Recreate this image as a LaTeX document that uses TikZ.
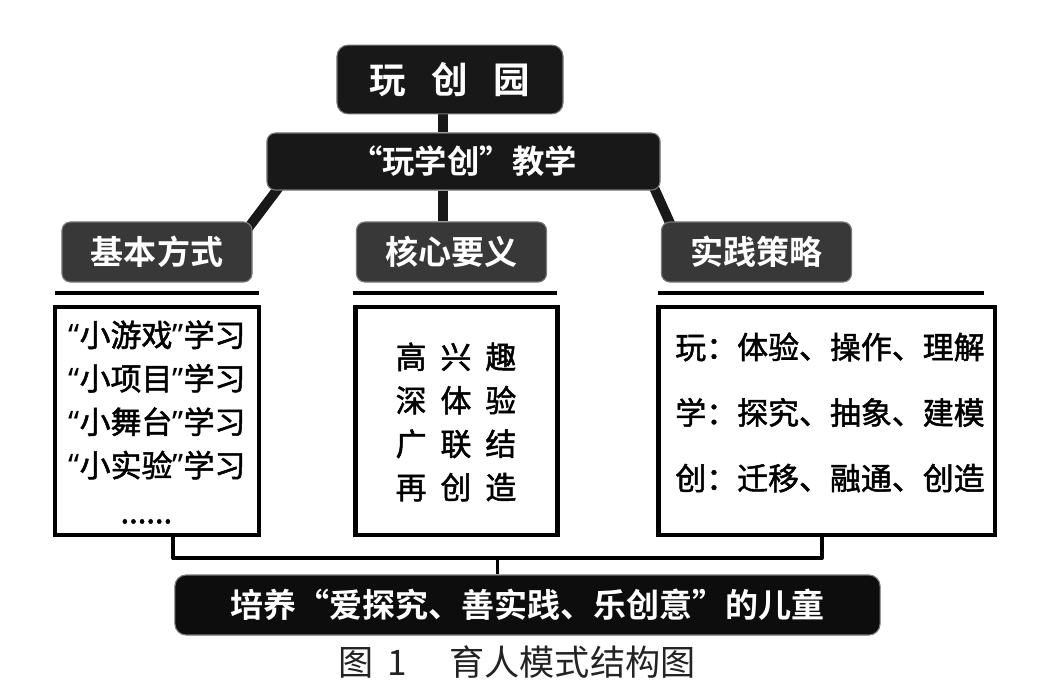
\documentclass[tikz,border=0pt]{standalone}
\usepackage{fontspec}
\setmainfont{Noto Sans CJK SC}[BoldFont={Noto Sans CJK SC Bold}]
\newfontfamily\cjkmid{Noto Sans CJK SC}[FakeBold=1.6]
\newfontfamily\latinq{Noto Sans}
\usepackage{tikz}
\usetikzlibrary{calc,backgrounds}
\definecolor{boxblack}{RGB}{24,24,24}
\definecolor{boxgray}{RGB}{56,56,56}
\definecolor{rimgray}{RGB}{120,120,120}
\definecolor{captiongray}{RGB}{35,35,35}
\newcommand{\nq}[1]{{\latinq “}#1{\latinq ”}}
\newcommand{\cgap}{\hspace{0.45em}}

\begin{document}
\begin{tikzpicture}[
  x=0.025cm, y=-0.025cm,
  darkbox/.style={rounded corners=6pt, fill=boxblack, draw=rimgray, line width=0.8pt,
                  text=white, inner sep=0pt},
  headbox/.style={darkbox, fill=boxgray, minimum width=4.75cm, minimum height=1.5cm,
                  font=\bfseries\fontsize{23.5}{28}\selectfont},
  listframe/.style={draw, line width=3.2pt, minimum height=5.69cm, inner sep=0pt},
  listtext/.style={font=\cjkmid\fontsize{22}{30.9}\selectfont, align=left, inner sep=0pt},
  stem/.style={line width=7pt, color=boxblack},
  rule/.style={line width=3pt},
  bracket/.style={line width=2.8pt, line join=round}
]
\useasboundingbox (0,0) rectangle (1041,693);

% Top levels
\node[darkbox, rounded corners=8pt, minimum width=5.65cm, minimum height=1.72cm,
  font=\bfseries\fontsize{26}{30}\selectfont] (park) at (450,79.5)
  {玩\hspace{0.7em}创\hspace{0.7em}园};
\node[darkbox, minimum width=9.825cm, minimum height=1.425cm,
  font=\bfseries\fontsize{23}{27}\selectfont] (teach) at (463.5,161.5)
  {“玩学创”教学};

% Three aspects
\node[headbox] (basic) at (157,252) {基本方式};
\node[headbox] (core) at (451.5,252) {核心要义};
\node[headbox] (strategy) at (756.5,252) {实践策略};

% Frames
\node[listframe, minimum width=5.09cm] (modeframe) at (157,421) {};
\node[listframe, minimum width=5.06cm] (coreframe) at (456.5,421) {};
\node[listframe, minimum width=8.41cm] (strategyframe) at (826.5,421) {};

% Frame texts
\node[listtext] (modetext) at (157,422)
  {\nq{小游戏}学习\\\nq{小项目}学习\\\nq{小舞台}学习\\\nq{小实验}学习\\[2pt]\hspace*{1.3cm}......};
\node[listtext, align=center] (coretext) at (456,422)
  {高\cgap 兴\cgap 趣\\深\cgap 体\cgap 验\\广\cgap 联\cgap 结\\再\cgap 创\cgap 造};
\node[listtext, font=\cjkmid\fontsize{22}{46.6}\selectfont] (strategytext) at (830,412.5)
  {玩：体验、操作、理解\\学：探究、抽象、建模\\创：迁移、融通、创造};

% Rules above frames
\draw[rule] ($(modeframe.north west)+(2,-12)$) -- ($(modeframe.north east)+(-2,-12)$);
\draw[rule] ($(coreframe.north west)+(0,-12)$) -- ($(coreframe.north east)+(-3,-12)$);
\draw[rule] ($(strategyframe.north west)+(2,-12)$) -- ($(strategyframe.north east)+(-13,-12)$);

% Goal and caption
\node[darkbox, fill=black!95, rounded corners=8pt, minimum width=17.625cm, minimum height=1.5cm,
  font=\bfseries\fontsize{23.5}{28}\selectfont] (goal) at (527.5,605)
  {培养“爱探究、善实践、乐创意”的儿童};
\node[font=\fontsize{25}{30}\selectfont, text=captiongray, inner sep=0pt] (caption) at (517,662)
  {图\hspace{0.4em}1\hspace{1.2em}育人模式结构图};

% Bracket
\coordinate (bl) at (173,558);
\coordinate (br) at (822,558);
\coordinate (bm) at ($(bl)!.5!(br)$);
\draw[bracket] (modeframe.south -| bl) -- (bl) -- (br) -- (strategyframe.south -| br);
\draw[bracket] (bm) -- (bm |- goal.north);

% Stems
\begin{scope}[on background layer]
\coordinate (spine) at (443,0);
\draw[stem] (park.south -| spine) -- (teach.north -| spine);
\draw[stem] (teach.south -| spine) -- (core.north -| spine);
\draw[stem] ($(teach.south west)+(13,-4)$) -- ($(basic.north east)+(-7,10)$);
\draw[stem] ($(teach.south east)+(-8,-6)$) -- ($(strategy.north west)+(12,8)$);
\end{scope}
\end{tikzpicture}
\end{document}
